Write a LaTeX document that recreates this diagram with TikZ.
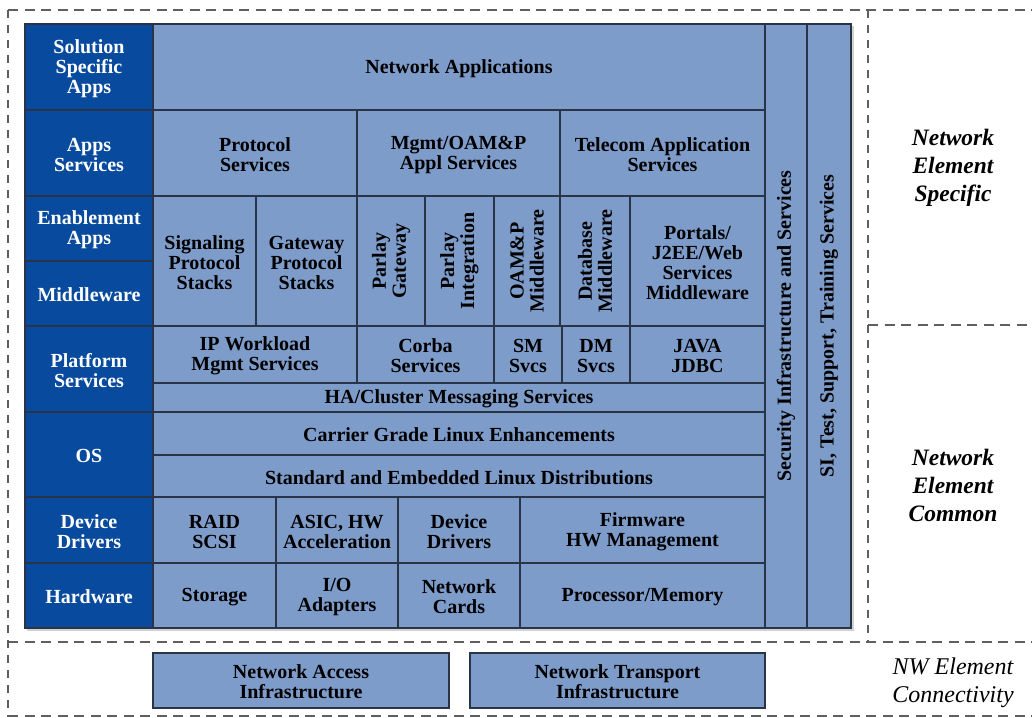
\documentclass[tikz,border=0pt]{standalone}
\usepackage{fontspec}
\setmainfont{Liberation Serif}
\definecolor{darkcol}{RGB}{8,74,158}
\definecolor{lightcol}{RGB}{126,156,202}
\definecolor{edgecol}{RGB}{42,52,72}
\definecolor{dashcol}{RGB}{95,95,95}

\begin{document}
\begin{tikzpicture}[x=1pt, y=-1pt,
  cell/.style={fill=lightcol, draw=edgecol, line width=1.2pt},
  dark/.style={fill=darkcol, draw=edgecol, line width=1.2pt},
  txt/.style={align=center, inner sep=0, font=\bfseries\fontsize{20}{20}\selectfont},
  wtxt/.style={txt, text=white},
  side/.style={align=center, inner sep=0, font=\bfseries\itshape\fontsize{23.5}{28}\selectfont},
  hdash/.style={dashcol, line width=2.3pt, dash pattern=on 10pt off 6.5pt},
  vdash/.style={dashcol, line width=2.3pt, dash pattern=on 8pt off 7pt}]
\useasboundingbox (0,0) rectangle (1032,717);
\fill[white] (0,0) rectangle (1032,717);
\fill[gray!35] (27,26) rectangle (854,631);
\foreach \ya/\yb/\t/\n in {24/110/{Solution\\Specific\\Apps}/sol, 110/196/{Apps\\Services}/aps,
  196/261/{Enablement\\Apps}/ena, 261/326/Middleware/mid, 326/412/{Platform\\Services}/pla,
  412/497/OS/os, 497/563/{Device\\Drivers}/dev, 563/628/Hardware/hw} {
 \draw[dark] (25,\ya) rectangle (153,\yb);
 \node[wtxt] (\n) at (89,{(\ya+\yb)/2+1.5}) {\t};
}
\foreach \xa/\ya/\xb/\yb/\t/\n in {
  153/24/765/110/{Network Applications}/netapp,
  153/110/357/196/{Protocol\\Services}/prot,
  357/110/560/196/{Mgmt/OAM\&P\\Appl Services}/mgmt,
  560/110/765/196/{Telecom Application\\Services}/tele,
  153/196/256/326/{Signaling\\Protocol\\Stacks}/sig,
  256/196/357/326/{Gateway\\Protocol\\Stacks}/gwp,
  630/196/765/326/{Portals/\\J2EE/Web\\Services\\Middleware}/port,
  153/326/357/383/{IP Workload\\Mgmt Services}/ipw,
  357/326/494/383/{Corba\\Services}/corba,
  494/326/562/383/{SM\\Svcs}/sm,
  562/326/630/383/{DM\\Svcs}/dm,
  630/326/765/383/{JAVA\\JDBC}/java,
  153/383/765/412/{HA/Cluster Messaging Services}/ha,
  153/412/765/455/{Carrier Grade Linux Enhancements}/cgl,
  153/455/765/497/{Standard and Embedded Linux Distributions}/std,
  153/497/276/563/{RAID\\SCSI}/raid,
  276/497/398/563/{ASIC, HW\\Acceleration}/asic,
  398/497/520/563/{Device\\Drivers}/ddrv,
  520/497/765/563/{Firmware\\HW Management}/fw,
  153/563/276/628/Storage/stor,
  276/563/398/628/{I/O\\Adapters}/io,
  398/563/520/628/{Network\\Cards}/ncard,
  520/563/765/628/{Processor/Memory}/proc} {
 \draw[cell] (\xa,\ya) rectangle (\xb,\yb);
 \node[txt] (\n) at ({(\xa+\xb)/2},{(\ya+\yb)/2+1.5}) {\t};
}
\foreach \xa/\xb/\t/\n in {357/425/{Parlay\\Gateway}/pgw, 425/494/{Parlay\\Integration}/pint,
  494/560/{OAM\&P\\Middleware}/oamp, 560/630/{Database\\Middleware}/dbm} {
 \draw[cell] (\xa,196) rectangle (\xb,326);
 \node[txt, rotate=90] (\n) at ({(\xa+\xb)/2},261) {\t};
}
\draw[cell] (765,24) rectangle (807,628);
\node[txt, rotate=90] (sec) at (786,326) {Security Infrastructure and Services};
\draw[cell] (807,24) rectangle (851,628);
\node[txt, rotate=90] (sit) at (829,326) {SI, Test, Support, Training Services};
\draw[cell] (153,653) rectangle (449,708);
\node[txt] (nai) at (301,681.5) {Network Access\\Infrastructure};
\draw[cell] (470,653) rectangle (765,708);
\node[txt] (nti) at (617.5,681.5) {Network Transport\\Infrastructure};
\node[side] (nes) at (953,168) {Network\\Element\\Specific};
\node[side] (nec) at (953,485) {Network\\Element\\Common};
\node[align=center, inner sep=0, font=\itshape\fontsize{24}{28}\selectfont] (nwc) at (953,683) {NW Element\\Connectivity};
\draw[hdash] (8,10) -- (1032,10);
\draw[vdash] (8,10) -- (8,717);
\draw[vdash] (868,10) -- (868,642);
\draw[hdash] (868,325) -- (1032,325);
\draw[hdash] (8,642) -- (1032,642);
\draw[hdash, line width=1.2pt] (8,716) -- (1032,716);
\end{tikzpicture}
\end{document}
